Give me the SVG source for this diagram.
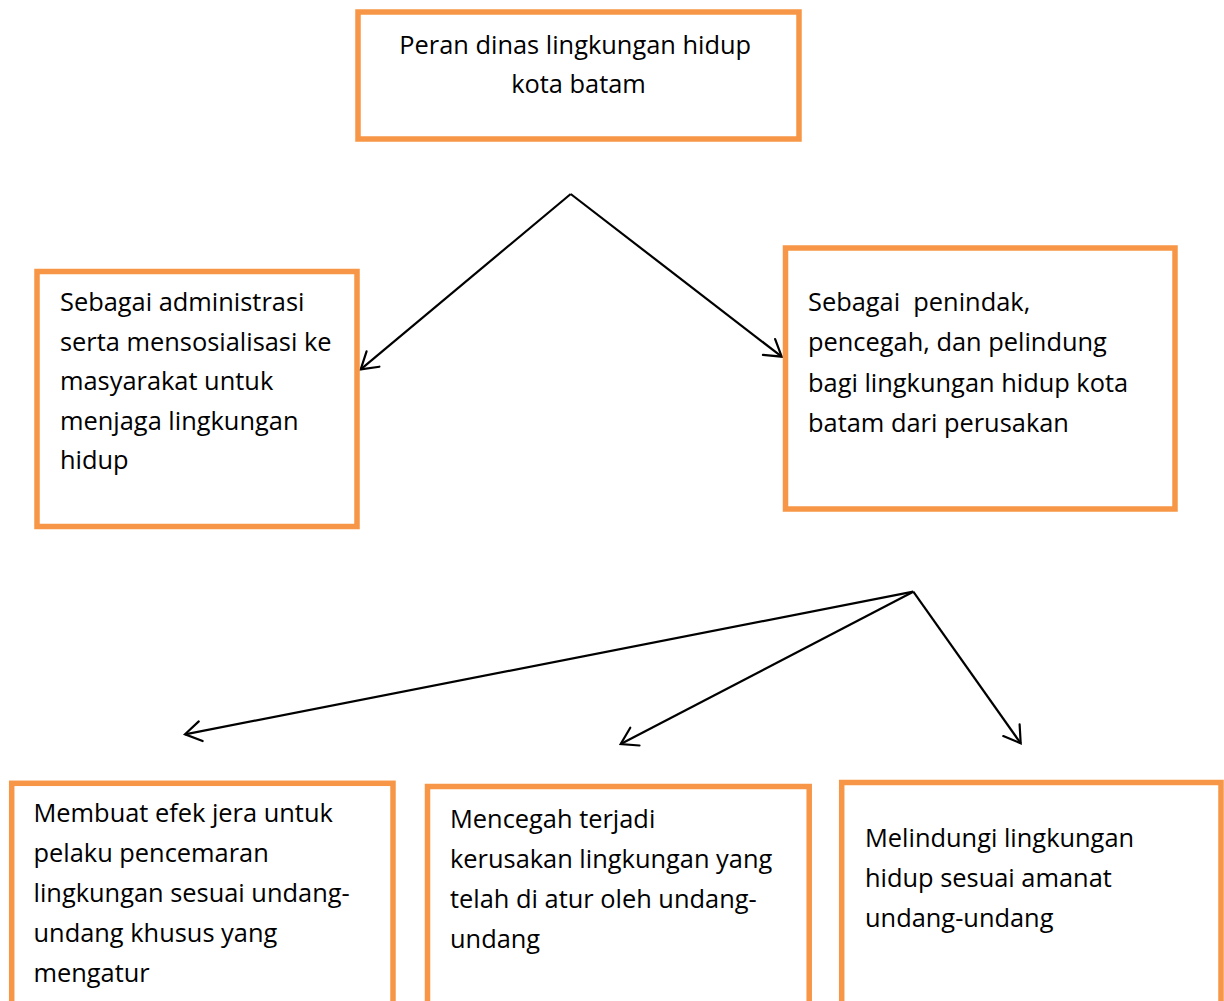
<svg xmlns="http://www.w3.org/2000/svg" width="1224" height="1001" viewBox="0 0 1224 1001">
  <style>
    .box { fill: #FFFFFF; stroke: #F79646; stroke-width: 5.5; }
    .lbl { font-family: "Open Sans", "Noto Sans", "DejaVu Sans", sans-serif; font-size: 25.4px; fill: #000000; }
    .ctr { text-anchor: middle; }
    .conn { stroke: #000000; stroke-width: 2.2; fill: none; marker-end: url(#arrow); }
  </style>
  <defs>
    <marker id="arrow" markerUnits="userSpaceOnUse" markerWidth="40" markerHeight="40" refX="0" refY="0" orient="auto" overflow="visible">
      <path d="M-16,-10 L0,0 L-16,10" fill="none" stroke="#000000" stroke-width="2.2" stroke-linecap="round" stroke-linejoin="miter"/>
    </marker>
  </defs>
  <rect width="1224" height="1001" fill="#FFFFFF"/>

  <g id="connectors">
    <line class="conn" x1="570.7" y1="194" x2="360.7" y2="369.3"/>
    <line class="conn" x1="570.7" y1="194" x2="781.7" y2="356.7"/>
    <line class="conn" x1="913.3" y1="591.7" x2="185" y2="734.3"/>
    <line class="conn" x1="913.3" y1="591.7" x2="620.7" y2="744"/>
    <line class="conn" x1="913.3" y1="591.7" x2="1020.7" y2="743.3"/>
  </g>

  <g id="node-peran">
    <rect class="box" x="358" y="12" width="441" height="127"/>
    <text class="lbl ctr">
      <tspan x="578.5" y="53.5">Peran dinas lingkungan hidup</tspan>
      <tspan x="578.5" y="92.5">kota batam</tspan>
    </text>
  </g>

  <g id="node-administrasi">
    <rect class="box" x="37" y="271.5" width="320" height="255"/>
    <text class="lbl">
      <tspan x="60" y="311">Sebagai administrasi</tspan>
      <tspan x="60" y="350.5">serta mensosialisasi ke</tspan>
      <tspan x="60" y="390">masyarakat untuk</tspan>
      <tspan x="60" y="429.5">menjaga lingkungan</tspan>
      <tspan x="60" y="469">hidup</tspan>
    </text>
  </g>

  <g id="node-penindak">
    <rect class="box" x="785.5" y="248" width="389.5" height="261"/>
    <text class="lbl" xml:space="preserve"><tspan x="808" y="311">Sebagai  penindak,</tspan><tspan x="808" y="351">pencegah, dan pelindung</tspan><tspan x="808" y="391.5">bagi lingkungan hidup kota</tspan><tspan x="808" y="432">batam dari perusakan</tspan></text>
  </g>

  <g id="node-efek-jera">
    <rect class="box" x="11.7" y="783.3" width="381.3" height="240"/>
    <text class="lbl">
      <tspan x="33.5" y="822">Membuat efek jera untuk</tspan>
      <tspan x="33.5" y="862">pelaku pencemaran</tspan>
      <tspan x="33.5" y="902">lingkungan sesuai undang-</tspan>
      <tspan x="33.5" y="942">undang khusus yang</tspan>
      <tspan x="33.5" y="982">mengatur</tspan>
    </text>
  </g>

  <g id="node-mencegah">
    <rect class="box" x="427.5" y="786.5" width="381.7" height="240"/>
    <text class="lbl">
      <tspan x="450" y="828">Mencegah terjadi</tspan>
      <tspan x="450" y="868">kerusakan lingkungan yang</tspan>
      <tspan x="450" y="908">telah di atur oleh undang-</tspan>
      <tspan x="450" y="948">undang</tspan>
    </text>
  </g>

  <g id="node-melindungi">
    <rect class="box" x="841.7" y="782.5" width="379.3" height="240"/>
    <text class="lbl">
      <tspan x="865" y="847">Melindungi lingkungan</tspan>
      <tspan x="865" y="887">hidup sesuai amanat</tspan>
      <tspan x="865" y="927">undang-undang</tspan>
    </text>
  </g>
</svg>
